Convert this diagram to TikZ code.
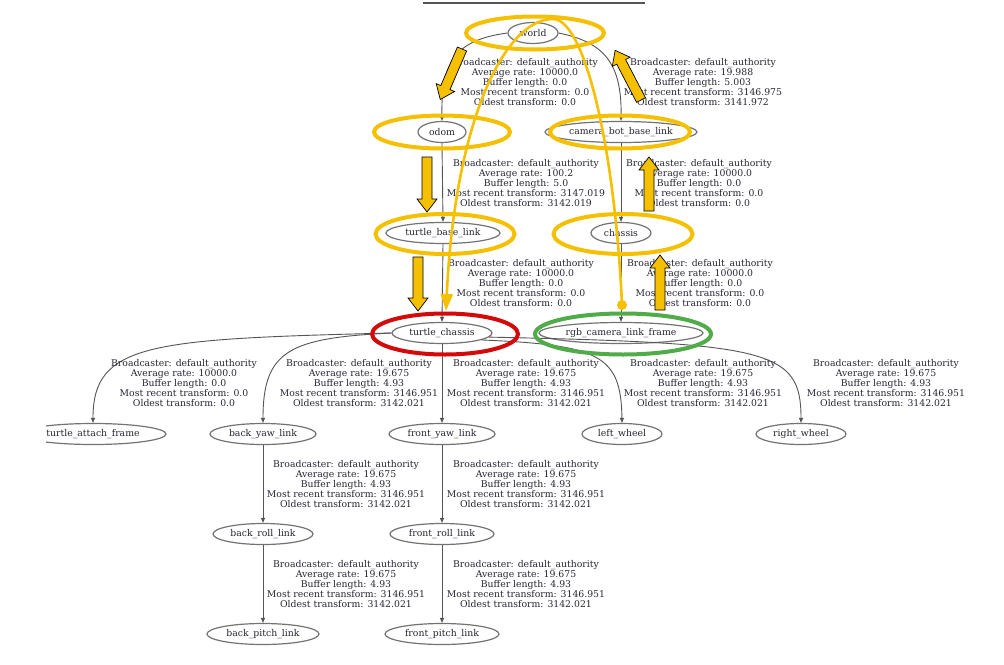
\documentclass[tikz,border=0pt]{standalone}
\usepackage{fontspec}
\setmainfont{DejaVu Serif}
\usetikzlibrary{arrows.meta,shapes.geometric}
\definecolor{hl}{RGB}{245,192,0}
\definecolor{hlred}{RGB}{212,10,10}
\definecolor{hlgreen}{RGB}{80,172,72}
\definecolor{edgegray}{RGB}{85,85,85}
\definecolor{nodegray}{RGB}{115,115,115}
\definecolor{txt}{RGB}{38,38,52}
\newcommand\labfont{\fontsize{9.3}{10.1}\selectfont}
\newcommand\tflabel[4]{Broadcaster: default\_authority\\Average rate: #1\\Buffer length: #2\\Most recent transform: #3\\Oldest transform: #4}
\begin{document}
\begin{tikzpicture}[x=1pt,y=-1pt,
  tf/.style={ellipse, draw=nodegray, line width=1.2pt, inner sep=0pt, minimum height=21pt, text=txt, font=\labfont},
  lab/.style={align=center, anchor=north, inner sep=0pt, text=txt, font=\labfont},
  edge/.style={draw=edgegray, line width=0.9pt, -{Triangle[length=5pt,width=4pt]}},
  ring/.style={ellipse, line width=4pt, inner sep=0pt},
  hlcurve/.style={draw=hl, line width=2.6pt},
  blockarrow/.style={fill=hl, draw=black, line width=0.7pt, line join=miter},
  pics/fatarrow/.style={code={\draw[blockarrow] (0,-5) -- ({#1-13},-5) -- ({#1-13},-10) -- (#1,0) -- ({#1-13},10) -- ({#1-13},5) -- (0,5) -- cycle;}}]

\fill[white] (0,0) rectangle (1004,664);
\useasboundingbox (0,0) rectangle (1004,664);

\draw[edgegray, line width=1.3pt] (423,3) -- (645,3);

% frames
\node[tf, minimum width=50pt]  (world)   at (533,33)  {world};
\node[tf, minimum width=48pt]  (odom)    at (442,132) {odom};
\node[tf, minimum width=152pt] (cbbl)    at (621,132) {camera\_bot\_base\_link};
\node[tf, minimum width=114pt] (tbl)     at (443,233) {turtle\_base\_link};
\node[tf, minimum width=60pt]  (chassis) at (621,233) {chassis};
\node[tf, minimum width=100pt] (tc)      at (442,333) {turtle\_chassis};
\node[tf, minimum width=164pt] (rgb)     at (621,333) {rgb\_camera\_link\_frame};
\begin{scope}
  \clip (46,400) rectangle (200,460);
  \node[tf, minimum width=146pt] (taf) at (93,434) {turtle\_attach\_frame};
\end{scope}
\node[tf, minimum width=106pt] (byl) at (263,434) {back\_yaw\_link};
\node[tf, minimum width=106pt] (fyl) at (442,434) {front\_yaw\_link};
\node[tf, minimum width=80pt]  (lw)  at (622,434) {left\_wheel};
\node[tf, minimum width=90pt]  (rw)  at (801,434) {right\_wheel};
\node[tf, minimum width=100pt] (brl) at (263,534) {back\_roll\_link};
\node[tf, minimum width=104pt] (frl) at (442,534) {front\_roll\_link};
\node[tf, minimum width=112pt] (bpl) at (263,634) {back\_pitch\_link};
\node[tf, minimum width=114pt] (fpl) at (442,634) {front\_pitch\_link};

% edges
\draw[edge] (world.west) .. controls (455,40) and (441,62) .. (odom.north);
\draw[edge] (world.east) .. controls (603,42) and (622,62) .. (cbbl.north);
\draw[edge] (odom.south) -- (tbl.north);
\draw[edge] (cbbl.south) -- (chassis.north);
\draw[edge] (tbl.south) -- (tc.north);
\draw[edge] (chassis.south) -- (rgb.north);
\draw[edge] (tc.west) .. controls (150,339) and (93,343) .. (taf.north);
\draw[edge] (tc.west) .. controls (290,338) and (263,350) .. (byl.north);
\draw[edge] (tc.south) -- (fyl.north);
\draw[edge] (tc.-10) .. controls (600,345) and (621,355) .. (lw.north);
\draw[edge] (tc.-5) .. controls (770,343) and (801,350) .. (rw.north);
\draw[edge] (byl.south) -- (brl.north);
\draw[edge] (brl.south) -- (bpl.north);
\draw[edge] (fyl.south) -- (frl.north);
\draw[edge] (frl.south) -- (fpl.north);

% edge labels
\node[lab] (lwo) at (525,58)  {\tflabel{10000.0}{0.0}{0.0}{0.0}};
\node[lab] (lwc) at (703,58)  {\tflabel{19.988}{5.003}{3146.975}{3141.972}};
\node[lab] (lot) at (526,159) {\tflabel{100.2}{5.0}{3147.019}{3142.019}};
\node[lab] (lcc) at (699,159) {\tflabel{10000.0}{0.0}{0.0}{0.0}};
\node[lab] (ltt) at (521,259) {\tflabel{10000.0}{0.0}{0.0}{0.0}};
\node[lab] (lcr) at (700,259) {\tflabel{10000.0}{0.0}{0.0}{0.0}};
\node[lab] (lta) at (184,359) {\tflabel{10000.0}{0.0}{0.0}{0.0}};
\node[lab] (lby) at (359,359) {\tflabel{19.675}{4.93}{3146.951}{3142.021}};
\node[lab] (lfy) at (526,359) {\tflabel{19.675}{4.93}{3146.951}{3142.021}};
\node[lab] (llw) at (703,359) {\tflabel{19.675}{4.93}{3146.951}{3142.021}};
\node[lab] (lrw) at (886,359) {\tflabel{19.675}{4.93}{3146.951}{3142.021}};
\node[lab] (lbr) at (346,460) {\tflabel{19.675}{4.93}{3146.951}{3142.021}};
\node[lab] (lfr) at (526,460) {\tflabel{19.675}{4.93}{3146.951}{3142.021}};
\node[lab] (lbp) at (346,560) {\tflabel{19.675}{4.93}{3146.951}{3142.021}};
\node[lab] (lfp) at (526,560) {\tflabel{19.675}{4.93}{3146.951}{3142.021}};

% highlight rings
\node[ring, draw=hl, minimum width=138pt, minimum height=33pt] (hworld) at (535,33) {};
\node[ring, draw=hl, minimum width=136pt, minimum height=33pt] (hodom) at (442,132) {};
\node[ring, draw=hl, minimum width=140pt, minimum height=33pt] (hcbbl) at (620,132) {};
\node[ring, draw=hl, minimum width=139pt, minimum height=40pt] (htbl) at (445,234) {};
\node[ring, draw=hl, minimum width=139pt, minimum height=40pt] (hchassis) at (623,234) {};
\node[ring, draw=hlred, minimum width=146pt, minimum height=41pt] (htc) at (445,334) {};
\node[ring, draw=hlgreen, minimum width=176pt, minimum height=41pt] (hrgb) at (623,334) {};

% highlight curve
\coordinate (ya) at (622,305);
\coordinate (ytop) at (553,19);
\coordinate (yb) at (446,311);
\draw[hlcurve, -{Triangle[length=17pt,width=12pt]}] (ya) .. controls (615,150) and (585,19) .. (ytop) .. controls (505,19) and (455,120) .. (yb);
\fill[hl] (ya) circle (5pt);

% block arrows
\pic[rotate=-113.3] at (462,49) {fatarrow=55};
\pic[rotate=117.5] at (641,100) {fatarrow=56};
\pic[rotate=-90] at (427,157) {fatarrow=55};
\pic[rotate=-90] at (418,257) {fatarrow=54};
\pic[rotate=90] at (649,211) {fatarrow=54};
\pic[rotate=90] at (660,310) {fatarrow=55};
\end{tikzpicture}
\end{document}
